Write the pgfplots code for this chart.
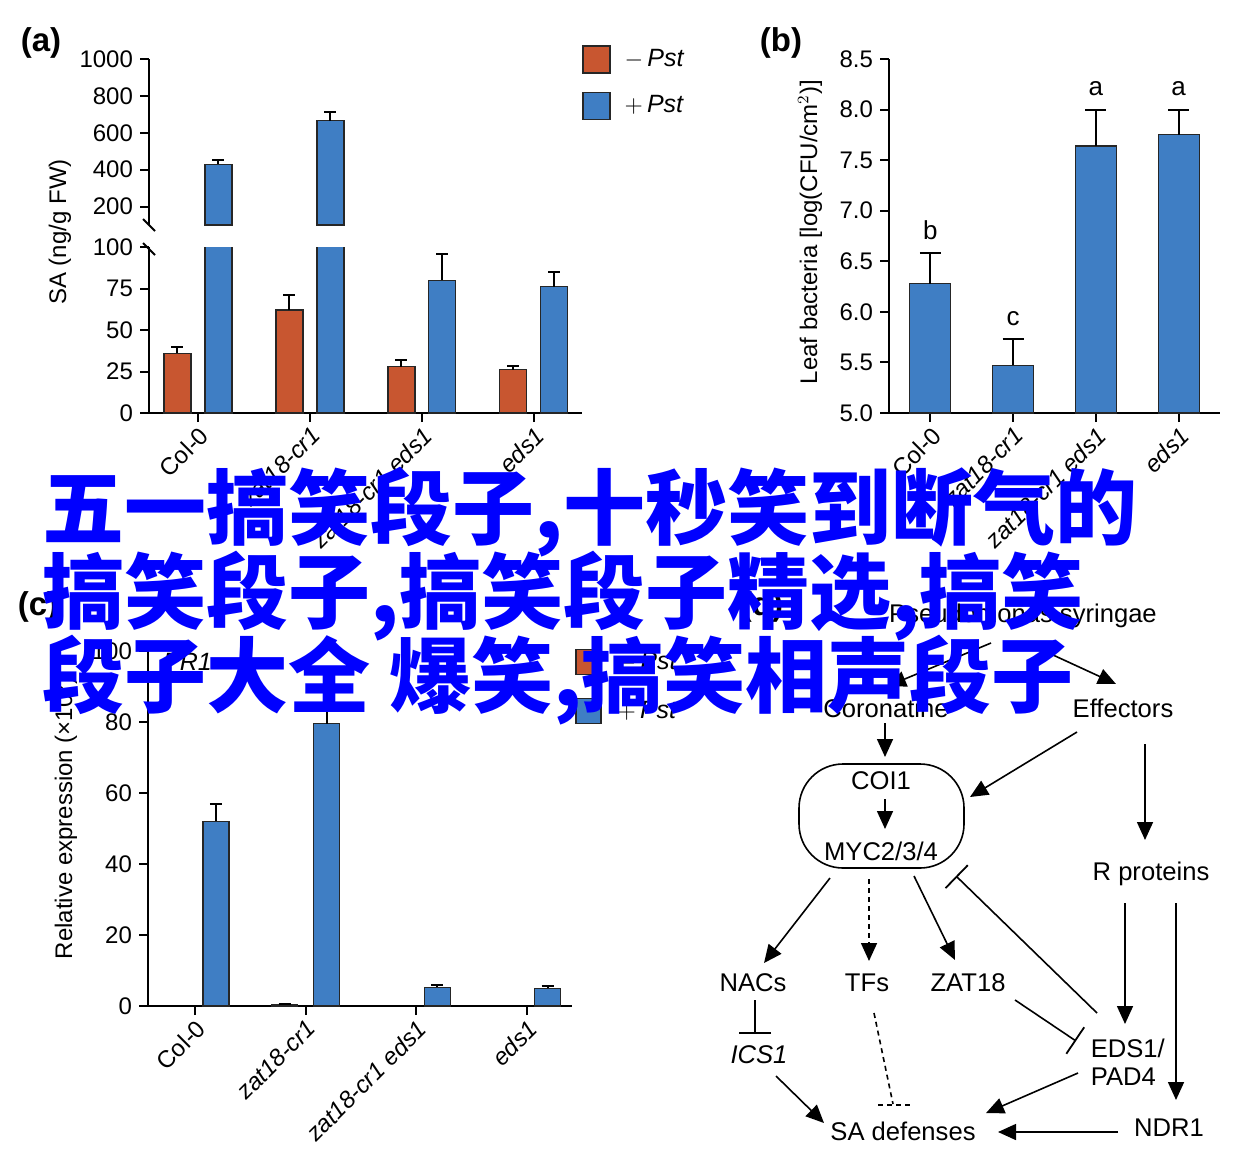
\documentclass[border=0pt]{standalone}
\usepackage{pgfplots}
\pgfplotsset{compat=1.18}
\usepackage{fontspec}
\setmainfont{Liberation Sans}
\newfontfamily\cjk{Noto Sans CJK SC}
\usetikzlibrary{arrows.meta}

\definecolor{pstneg}{RGB}{200,86,48}
\definecolor{pstpos}{RGB}{63,126,196}
\definecolor{wm}{RGB}{0,0,255}

% bars of a group sit at x-0.183 and x+0.183 (panel a) or x-0.19 and x+0.19 (panel c)
\pgfplotsset{
  panel/.style={
    scale only axis,
    anchor=south west,
    axis x line*=bottom,
    axis y line*=left,
    axis line style={line width=1pt},
    tick style={line width=1pt,black},
    tick align=outside,
    major tick length=4.5pt,
    xtick={0,1,2,3},
    ticklabel style={font=\fontsize{12}{13}\selectfont},
    /pgf/number format/assume math mode=true,
    /pgf/number format/1000 sep={},
    xticklabels={Col-0,\textit{zat18-cr1},\textit{zat18-cr1 eds1},\textit{eds1}},
    xticklabel style={rotate=45,anchor=north east,inner sep=1pt},
  },
  bars/.style={ybar, bar width=#1, bar shift=0pt, draw=black!85, line width=0.6pt,
    error bars/y dir=plus, error bars/y explicit,
    error bars/error bar style={line width=1pt,black}},
  cap/.style={error bars/error mark options={rotate=90,mark size=#1,line width=1pt,black}},
  sq/.style={legend image code/.code={\draw[draw=black!85,line width=0.6pt,##1] (0pt,-#1) rectangle (2*#1,#1);}},
}

\begin{document}
\begin{tikzpicture}
\useasboundingbox (0,0) rectangle (622.5pt,-583pt);

% ---------- (a) lower part ----------
\begin{axis}[panel, at={(74.5pt,-206.5pt)}, width=216.5pt, height=83pt,
  xmin=-0.4375, xmax=3.43, ymin=0, ymax=100, ytick={0,25,50,75,100}]
\addplot[fill=pstneg, bars=13.5pt, cap=3pt] coordinates {
  (-0.183,36) +- (0,4) (0.817,62) +- (0,9) (1.817,28) +- (0,4) (2.817,26) +- (0,2.5)};
\addplot[fill=pstpos, bars=13.5pt, cap=3pt] coordinates {
  (0.183,430) +- (0,0) (1.183,665) +- (0,0) (2.183,80) +- (0,16) (3.183,76) +- (0,9)};
\end{axis}

% ---------- (a) upper part ----------
\begin{axis}[panel, at={(74.5pt,-112.5pt)}, width=216.5pt, height=83pt,
  xmin=-0.4375, xmax=3.43, ymin=100, ymax=1000, ytick={200,400,600,800,1000},
  axis x line=none, xtick=\empty,
  legend style={at={(axis description cs:1,1)}, anchor=north west, yshift=7pt,
    draw=none, fill=none, inner sep=0pt, row sep=9pt, column sep=5pt,
    font=\fontsize{12.5}{14}\selectfont},
  legend cell align=left]
\addlegendimage{sq=6.75pt, fill=pstneg}
\addlegendentry{$-$\,\textit{Pst}}
\addlegendimage{sq=6.75pt, fill=pstpos}
\addlegendentry{$+$\,\textit{Pst}}
\addplot[fill=pstpos, bars=13.5pt, cap=3pt, forget plot] coordinates {
  (0.183,430) +- (0,25) (1.183,665) +- (0,48)};
\end{axis}
\draw[line width=1pt] (71.5pt,-109.5pt) -- (77.5pt,-115.5pt);
\draw[line width=1pt] (71.5pt,-121.5pt) -- (77.5pt,-127.5pt);
\node[rotate=90, font=\fontsize{12}{13}\selectfont] at (30pt,-116pt) {SA (ng/g FW)};
\node[font=\fontsize{16.5}{17}\selectfont\bfseries] at (20.5pt,-21.5pt) {(a)};

% ---------- (b) ----------
\begin{axis}[panel, at={(444.5pt,-206.5pt)}, width=165.5pt, height=177pt,
  xmin=-0.5, xmax=3.5, ymin=5, ymax=8.5, ytick={5,5.5,6,6.5,7,7.5,8,8.5},
  yticklabel style={/pgf/number format/.cd,fixed,fixed zerofill,precision=1}]
\addplot[fill=pstpos, bars=20.5pt, cap=5.25pt] coordinates {
  (0,6.28) +- (0,0.30) (1,5.47) +- (0,0.26) (2,7.64) +- (0,0.36) (3,7.75) +- (0,0.25)};
\begin{scope}[every node/.style={anchor=south, inner sep=0pt, yshift=6.5pt, font=\fontsize{13}{14}\selectfont}]
\node at (axis cs:0,6.58) {b};
\node at (axis cs:1,5.73) {c};
\node at (axis cs:2,8.0) {a};
\node at (axis cs:3,8.0) {a};
\end{scope}
\end{axis}
\node[rotate=90, font=\fontsize{12}{13}\selectfont] at (405pt,-116pt) {Leaf bacteria [log(CFU/cm$^2$)]};
\node[font=\fontsize{16.5}{17}\selectfont\bfseries] at (390.5pt,-21.5pt) {(b)};

% ---------- (c) ----------
\begin{axis}[panel, at={(74pt,-503pt)}, width=212pt, height=177.5pt,
  xmin=-0.425, xmax=3.41, ymin=0, ymax=100, ytick={0,20,40,60,80,100},
  legend style={at={(axis description cs:1,1)}, anchor=north west, yshift=1.75pt, xshift=1.5pt,
    draw=none, fill=none, inner sep=0pt, row sep=10.5pt, column sep=6pt,
    font=\fontsize{12.5}{14}\selectfont},
  legend cell align=left]
\addlegendimage{sq=6.25pt, fill=pstneg}
\addlegendentry{$-$\,\textit{Pst}}
\addlegendimage{sq=6.25pt, fill=pstpos}
\addlegendentry{$+$\,\textit{Pst}}
\addplot[fill=pstneg, bars=13pt, cap=3pt, forget plot] coordinates {
  (0.81,0.3) +- (0,0.3)};
\addplot[fill=pstpos, bars=13pt, cap=3pt, forget plot] coordinates {
  (0.19,52) +- (0,5) (1.19,79.5) +- (0,4.5) (2.19,5.3) +- (0,0.6) (3.19,5.0) +- (0,0.6)};
\node[anchor=west, inner sep=0pt, font=\fontsize{12.5}{14}\selectfont] at (axis description cs:0.035,0.969) {\textit{PR1}};
\end{axis}
\node[rotate=90, font=\fontsize{12}{13}\selectfont] at (32.5pt,-409pt) {Relative expression (×10$^3$)};
\node[font=\fontsize{16.5}{17}\selectfont\bfseries] at (19pt,-303.5pt) {(c)};

% ---------- (d) ----------
\begin{scope}[x=0.5pt, y=-0.5pt, font=\fontsize{12.8}{14}\selectfont, line width=0.8pt,
  arr/.style={-{Triangle[length=9pt,width=8pt]}}, inh/.style={-{Bar[width=16pt,line width=0.9pt]}}]
\node[font=\fontsize{16.5}{17}\selectfont\bfseries] at (762,607) {(d)};
\node at (1023,616) {Pseudomonas syringae};
\draw[arr] (991,643) -- (888,686);
\draw[arr] (1040,649) -- (1116,684);
\node at (886,708) {Coronatine};
\node at (1123,708) {Effectors};
\draw[arr] (885,723) -- (885,757);
\draw[rounded corners=22pt] (799,764) rectangle (964,868);
\node at (881,781) {COI1};
\draw[arr] (885,799) -- (885,829);
\node at (881,851) {MYC2/3/4};
\draw[arr] (1077,732) -- (970,797);
\draw[arr] (1145,744) -- (1145,840);
\node at (1151,874) {R proteins};
\draw[arr] (830,878) -- (764,963);
\draw[arr, dash pattern=on 2.5pt off 2pt] (869,879) -- (869,961);
\draw[arr] (914,876) -- (955,960);
\node at (753,983) {NACs};
\node at (867,983) {TFs};
\node at (968,983) {ZAT18};
\draw[inh] (1097,1013) -- (956,876);
\draw[inh] (1015,1000) -- (1076,1041);
\draw[arr] (1125,903) -- (1125,1024);
\draw[arr] (1176,903) -- (1176,1100);
\node[anchor=west, align=left, inner sep=0pt] at (1090,1062) {EDS1/\\PAD4};
\draw[inh] (755,1000) -- (755,1034);
\node at (759,1055) {\textit{ICS1}};
\draw[arr] (776,1076) -- (824,1123);
\draw[dash pattern=on 2.5pt off 2pt] (874,1013) -- (893,1104);
\draw[dash pattern=on 2.5pt off 2pt] (878,1105) -- (911,1105);
\draw[arr] (1078,1073) -- (986,1113);
\draw[arr] (1118,1132) -- (998,1132);
\node at (903,1131) {SA defenses};
\node at (1169,1128) {NDR1};
\end{scope}

% ---------- overlay text ----------
\begin{scope}[x=0.5pt, y=-0.5pt, every node/.style={anchor=west, inner sep=0pt, text=wm,
    font=\cjk\bfseries\fontsize{41}{44}\selectfont}]
\node at (42,512) {五一搞笑段子,十秒笑到断气的};
\node at (42,596) {搞笑段子,搞笑段子精选,搞笑};
\node at (42,680) {段子大全 爆笑,搞笑相声段子};
\end{scope}
\end{tikzpicture}
\end{document}
